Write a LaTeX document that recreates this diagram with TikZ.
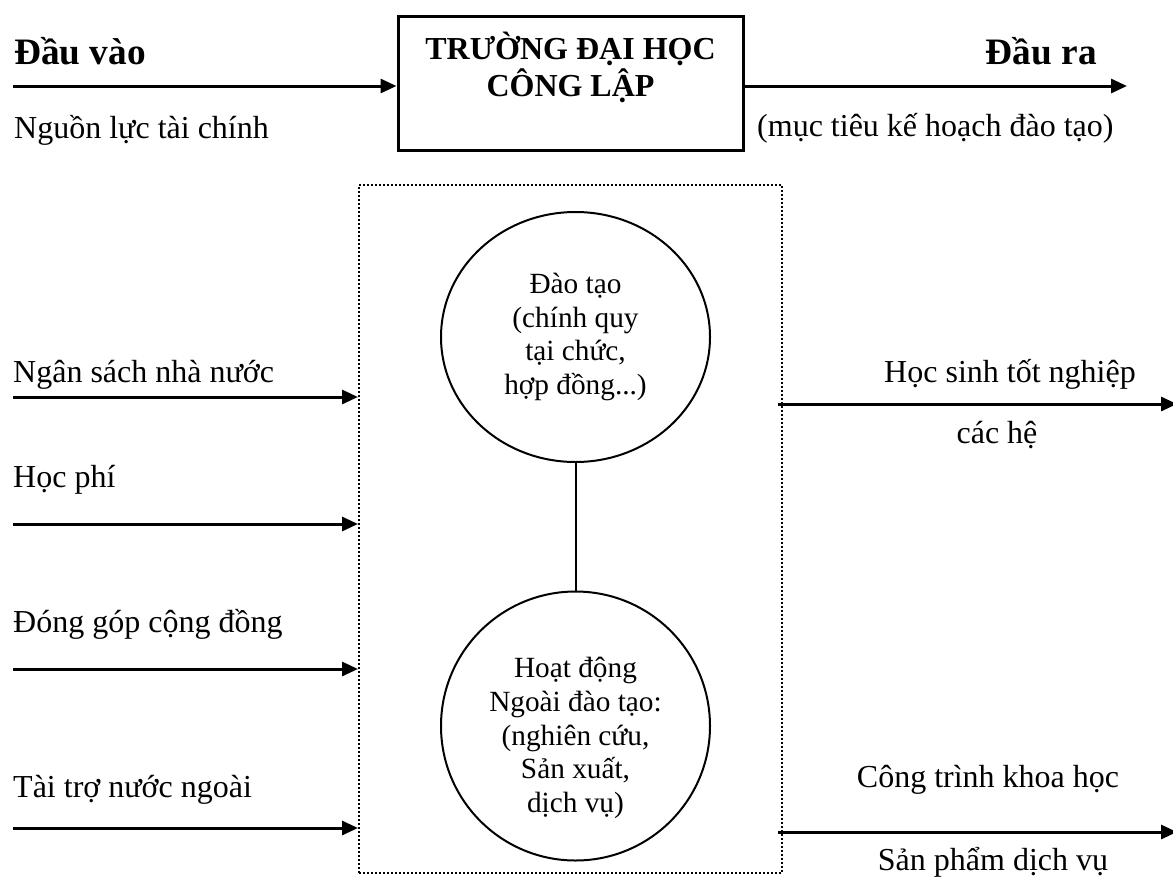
\documentclass[tikz,border=0pt]{standalone}
\usepackage{fontspec}
\setmainfont{Liberation Serif}
\usetikzlibrary{arrows.meta,shapes.geometric}

\newcommand{\chuthuong}{\fontsize{32}{36.8}\selectfont}
\newcommand{\chutron}{\fontsize{29.3}{33.7}\selectfont}
\newcommand{\chudam}{\fontsize{37.3}{42}\selectfont\bfseries}

\begin{document}
\begin{tikzpicture}[x=1pt,y=-1pt,
        muiten/.style={-{Triangle[length=16pt,width=14pt]},line width=3pt},
        nhan/.style={inner sep=0pt,anchor=base west,font=\chuthuong},
        giua/.style={inner sep=0pt,anchor=base,font=\chuthuong},
        vong/.style={draw,line width=2pt,align=center,font=\chutron}]
    \useasboundingbox (0,0) rectangle (1173,876);
    % hop tren va khung cham
    \node[draw,line width=3pt,minimum width=345pt,minimum height=134pt,inner sep=0pt,
        align=center,font=\chuthuong\bfseries] (truong) at (570.5,83)
        {TRƯỜNG ĐẠI HỌC\\CÔNG LẬP\\\mbox{}};
    \node[draw,line width=2pt,dash pattern=on 2pt off 2pt,minimum width=423pt,
        minimum height=688pt] (khung) at (570.5,529) {};
    % dau vao, dau ra
    \node[nhan,font=\chudam] (dauvao) at (14,64) {Đầu vào};
    \node[nhan] (nguonluc) at (14,138) {Nguồn lực tài chính};
    \node[nhan,font=\chudam,anchor=base east] (daura) at (1097,64) {Đầu ra};
    \node[nhan] (muctieu) at (757,136) {(mục tiêu kế hoạch đào tạo)};
    \coordinate (vao) at (13,86);
    \coordinate (ra) at (1127,86);
    \draw[muiten] (vao) -- (vao -| truong.west);
    \draw[muiten] (ra -| truong.east) -- (ra);
    % hai vong tron
    \node[vong,ellipse,minimum width=269pt,minimum height=250pt] (daotao) at (575.5,337)
        {Đào tạo\\(chính quy\\tại chức,\\hợp đồng...)};
    \node[vong,circle,minimum size=269pt,
        label={[align=center,font=\chutron,yshift=-12pt]center:Hoạt động\\Ngoài đào tạo:\\(nghiên cứu,\\Sản xuất,\\dịch vụ)}]
        (ngoaidt) at (575.5,726) {};
    \draw[line width=2pt] (daotao) -- (ngoaidt);
    % cac nguon vao
    \node[nhan] (ngansach) at (13,382) {Ngân sách nhà nước};
    \node[nhan] (hocphi) at (13,487) {Học phí};
    \node[nhan] (donggop) at (13,632) {Đóng góp cộng đồng};
    \node[nhan] (taitro) at (13,797) {Tài trợ nước ngoài};
    \coordinate (vao1) at (13,397);
    \coordinate (vao2) at (13,524);
    \coordinate (vao3) at (13,669);
    \coordinate (vao4) at (13,828);
    \draw[muiten] (vao1) -- (vao1 -| khung.west);
    \draw[muiten] (vao2) -- (vao2 -| khung.west);
    \draw[muiten] (vao3) -- (vao3 -| khung.west);
    \draw[muiten] (vao4) -- (vao4 -| khung.west);
    % cac dau ra
    \node[giua] (hocsinh) at (1010,382) {Học sinh tốt nghiệp};
    \node[giua] (cache) at (997,443) {các hệ};
    \node[giua] (congtrinh) at (988,787) {Công trình khoa học};
    \node[giua] (sanpham) at (993,870) {Sản phẩm dịch vụ};
    \coordinate (ra1) at (1177,404);
    \coordinate (ra2) at (1177,832);
    \draw[muiten] ([xshift=-5pt]ra1 -| khung.east) -- (ra1);
    \draw[muiten] ([xshift=-5pt]ra2 -| khung.east) -- (ra2);
\end{tikzpicture}
\end{document}
